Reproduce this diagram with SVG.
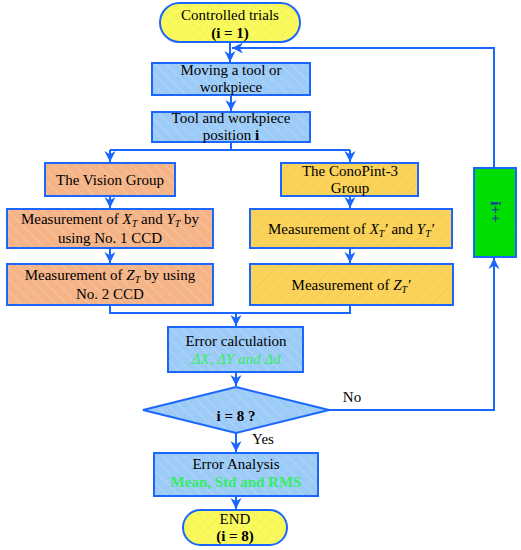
<svg xmlns="http://www.w3.org/2000/svg" width="521" height="550" viewBox="0 0 521 550">
<defs>
<pattern id="hb" width="8" height="8" patternUnits="userSpaceOnUse" patternTransform="rotate(-45)">
<rect width="8" height="8" fill="#9dcbf7"/><line x1="0" y1="0" x2="0" y2="8" stroke="#b6d8fa" stroke-width="1.5"/></pattern>
<pattern id="ho" width="8" height="8" patternUnits="userSpaceOnUse" patternTransform="rotate(-45)">
<rect width="8" height="8" fill="#f5b488"/><line x1="0" y1="0" x2="0" y2="8" stroke="#f8c8a4" stroke-width="1.5"/></pattern>
<pattern id="hy" width="8" height="8" patternUnits="userSpaceOnUse" patternTransform="rotate(45)">
<rect width="8" height="8" fill="#fbd35a"/><line x1="0" y1="0" x2="0" y2="8" stroke="#f0c44a" stroke-width="1"/></pattern>
<pattern id="ht" width="8" height="8" patternUnits="userSpaceOnUse" patternTransform="rotate(45)">
<rect width="8" height="8" fill="#fafa5a"/><path d="M0 0V8M0 0H8" stroke="#ecec6a" stroke-width="1"/></pattern>
<pattern id="hg" width="8" height="8" patternUnits="userSpaceOnUse" patternTransform="rotate(45)">
<rect width="8" height="8" fill="#00e000"/><line x1="0" y1="0" x2="0" y2="8" stroke="#14c814" stroke-width="1"/></pattern>
<marker id="ar" viewBox="0 0 10 10" refX="10" refY="5" markerWidth="5.5" markerHeight="6" markerUnits="strokeWidth" orient="auto">
<path d="M0 0L10 5L0 10L3 5Z" fill="#1a66ff"/></marker>
</defs>
<style>
.bx{stroke:#1a66ff;stroke-width:2}
.ln{fill:none;stroke:#1a66ff;stroke-width:2}
text{font-family:'Liberation Serif','Times New Roman',serif;font-size:15px;fill:#000;text-anchor:middle}
.b{font-weight:bold}
.g{fill:#33ee66}
</style>
<g id="connectors">
<path class="ln" d="M230 42V62" marker-end="url(#ar)"/>
<path class="ln" d="M231 95V111" marker-end="url(#ar)"/>
<path class="ln" d="M231 142V150M110 150H350"/>
<path class="ln" d="M110 150V162" marker-end="url(#ar)"/>
<path class="ln" d="M350 150V162" marker-end="url(#ar)"/>
<path class="ln" d="M110 196V208" marker-end="url(#ar)"/>
<path class="ln" d="M350 196V208" marker-end="url(#ar)"/>
<path class="ln" d="M110 248V263" marker-end="url(#ar)"/>
<path class="ln" d="M350 248V263" marker-end="url(#ar)"/>
<path class="ln" d="M110 305V313H350V305"/>
<path class="ln" d="M236 313V326" marker-end="url(#ar)"/>
<path class="ln" d="M236 372V386" marker-end="url(#ar)"/>
<path class="ln" d="M236 433V452" marker-end="url(#ar)"/>
<path class="ln" d="M236 496V509" marker-end="url(#ar)"/>
<path class="ln" d="M328 410H494V258" marker-end="url(#ar)"/>
<path class="ln" d="M494 168V48H232" marker-end="url(#ar)"/>
</g>
<g id="start">
<rect class="bx" x="160" y="3" width="140" height="39" rx="19.5" fill="url(#ht)"/>
<text x="230" y="20">Controlled trials</text>
<text x="230" y="38" class="b">(i = 1)</text>
</g>
<g id="moving">
<rect class="bx" x="152" y="63" width="158" height="32" fill="url(#hb)"/>
<text x="231" y="75">Moving a tool or</text>
<text x="231" y="92">workpiece</text>
</g>
<g id="position">
<rect class="bx" x="152" y="112" width="158" height="30" fill="url(#hb)"/>
<text x="231" y="123">Tool and workpiece</text>
<text x="231" y="139.5">position <tspan class="b">i</tspan></text>
</g>
<g id="vision">
<rect class="bx" x="45" y="163" width="130" height="33" fill="url(#ho)"/>
<text x="110" y="185">The Vision Group</text>
</g>
<g id="measXY">
<rect class="bx" x="7" y="209" width="206" height="39" fill="url(#ho)"/>
<text x="110" y="224">Measurement of <tspan font-style="italic">X</tspan><tspan font-style="italic" font-size="10" dy="3">T</tspan><tspan dy="-3"> and </tspan><tspan font-style="italic">Y</tspan><tspan font-style="italic" font-size="10" dy="3">T</tspan><tspan dy="-3"> by</tspan></text>
<text x="110" y="243">using No. 1 CCD</text>
</g>
<g id="measZ">
<rect class="bx" x="7" y="264" width="206" height="41" fill="url(#ho)"/>
<text x="110" y="280">Measurement of <tspan font-style="italic">Z</tspan><tspan font-style="italic" font-size="10" dy="3">T</tspan><tspan dy="-3"> by using</tspan></text>
<text x="110" y="299">No. 2 CCD</text>
</g>
<g id="conopint">
<rect class="bx" x="281" y="163" width="137" height="33" fill="url(#hy)"/>
<text x="350" y="176">The ConoPint-3</text>
<text x="350" y="193">Group</text>
</g>
<g id="measXY2">
<rect class="bx" x="250" y="209" width="202" height="39" fill="url(#hy)"/>
<text x="351" y="234">Measurement of <tspan font-style="italic">X</tspan><tspan font-style="italic" font-size="10" dy="3">T</tspan><tspan dy="-3" font-style="italic">′</tspan><tspan> and </tspan><tspan font-style="italic">Y</tspan><tspan font-style="italic" font-size="10" dy="3">T</tspan><tspan dy="-3" font-style="italic">′</tspan></text>
</g>
<g id="measZ2">
<rect class="bx" x="250" y="264" width="203" height="41" fill="url(#hy)"/>
<text x="351" y="290">Measurement of <tspan font-style="italic">Z</tspan><tspan font-style="italic" font-size="10" dy="3">T</tspan><tspan dy="-3" font-style="italic">′</tspan></text>
</g>
<g id="errorcalc">
<rect class="bx" x="168" y="327" width="135" height="45" fill="url(#hb)"/>
<text x="236" y="346">Error calculation</text>
<text x="236" y="364" class="g" font-style="italic">ΔX, ΔY and Δd</text>
</g>
<g id="decision">
<path class="bx" d="M236 387L329 410L236 433L143 410Z" fill="url(#hb)"/>
<text x="236" y="421" class="b" font-size="17">i = 8 ?</text>
</g>
<g id="labels">
<text x="352" y="402">No</text>
<text x="263" y="444">Yes</text>
</g>
<g id="increment">
<rect class="bx" x="474" y="168" width="42" height="89" fill="url(#hg)"/>
<text x="495" y="212" class="b" font-size="12" transform="rotate(90 495 212)" dy="4" style="fill:#1a3aa0">i++</text>
</g>
<g id="analysis">
<rect class="bx" x="154" y="453" width="164" height="43" fill="url(#hb)"/>
<text x="236" y="469">Error Analysis</text>
<text x="236" y="487" class="g b">Mean, Std and RMS</text>
</g>
<g id="end">
<rect class="bx" x="183" y="510" width="104" height="35" rx="17.5" fill="url(#ht)"/>
<text x="235" y="524">END</text>
<text x="235" y="541" class="b">(i = 8)</text>
</g>
</svg>
